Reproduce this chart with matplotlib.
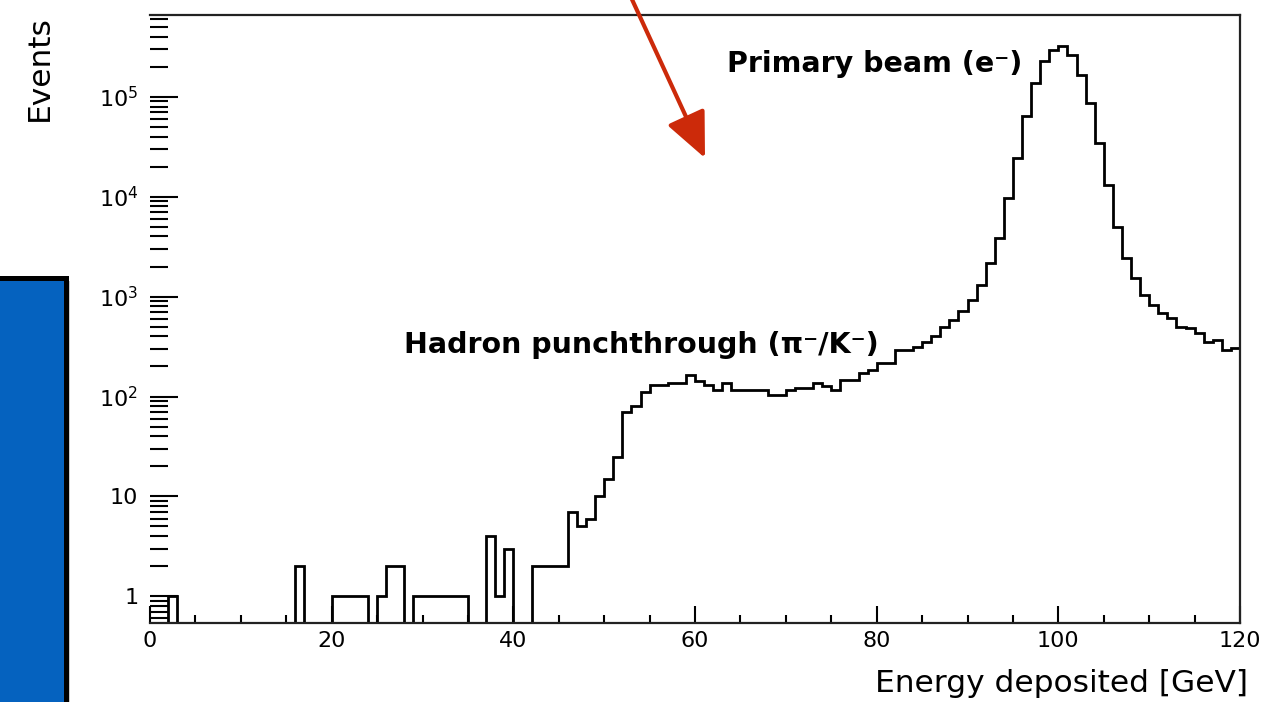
import matplotlib
matplotlib.use("Agg")
import matplotlib.pyplot as plt
import numpy as np
from matplotlib.patches import ArrowStyle, FancyArrowPatch, Rectangle
from matplotlib.ticker import MultipleLocator, LogLocator, NullFormatter

# energy binning [GeV]
bin_lo = 0
bin_hi = 120
bin_width = 1

# events per 1 GeV bin, 0-120 GeV
counts = [
    0, 0, 1, 0, 0, 0, 0, 0, 0, 0,                                          # 0-9
    0, 0, 0, 0, 0, 0, 2, 0, 0, 0,                                          # 10-19
    1, 1, 1, 1, 0, 1, 2, 2, 0, 1,                                          # 20-29
    1, 1, 1, 1, 1, 0, 0, 4, 1, 3,                                          # 30-39
    0, 0, 2, 2, 2, 2, 7, 5, 6, 10,                                         # 40-49
    15, 25, 70, 80, 112, 130, 130, 135, 135, 165,                          # 50-59
    142, 130, 116, 135, 116, 116, 116, 116, 104, 104,                      # 60-69
    116, 121, 121, 135, 126, 116, 147, 147, 171, 185,                      # 70-79
    215, 215, 293, 293, 316, 355, 400, 500, 585, 710,                      # 80-89
    930, 1310, 2160, 3850, 9700, 24300, 64000, 137000, 226000, 296000,     # 90-99
    320000, 264000, 166000, 86500, 34400, 13200, 5030, 2420, 1530, 1040,   # 100-109
    830, 680, 608, 500, 483, 430, 355, 370, 293, 305,                      # 110-119
]

decade_ticks = [1, 10, 1e2, 1e3, 1e4, 1e5]
decade_labels = ["1", "10", r"$10^{2}$", r"$10^{3}$", r"$10^{4}$", r"$10^{5}$"]

beam_label = "Primary beam (e\u207b)"
punch_label = "Hadron punchthrough (\u03c0\u207b/K\u207b)"

W, H = 1278, 702
fig = plt.figure(figsize=(W / 100, H / 100), dpi=100)
ax = fig.add_axes([150 / W, 79 / H, 1090 / W, 608 / H])

ymin, ymax = 0.54, 6.6e5
edges = np.arange(bin_lo, bin_hi + bin_width, bin_width)
counts_arr = np.asarray(counts, dtype=float)
# empty bins sit on the frame bottom like in ROOT
shown = np.where(counts_arr > 0, counts_arr, ymin * 0.5)
ax.stairs(shown, edges, baseline=None, color="black", lw=2.0)

ax.set_yscale("log")
ax.set_xlim(bin_lo, bin_hi)
ax.set_ylim(ymin, ymax)

ax.xaxis.set_major_locator(MultipleLocator(20))
ax.xaxis.set_minor_locator(MultipleLocator(5))
ax.tick_params(axis="x", which="major", direction="in", length=12, width=1.5,
               labelsize=16, pad=6, top=False)
ax.tick_params(axis="x", which="minor", direction="in", length=6, width=1.5, top=False)

ax.set_yticks(decade_ticks)
ax.set_yticklabels(decade_labels)
ax.yaxis.set_minor_locator(LogLocator(base=10, subs=np.arange(2, 10), numticks=20))
ax.yaxis.set_minor_formatter(NullFormatter())
ax.tick_params(axis="y", which="major", direction="in", length=20, width=1.5,
               labelsize=16, pad=8.5, right=False)
ax.tick_params(axis="y", which="minor", direction="in", length=13, width=1.5, right=False)

ax.spines["left"].set_visible(False)
for side in ("top", "right", "bottom"):
    ax.spines[side].set_linewidth(1.6)
    ax.spines[side].set_color("#222222")

ax.text(63.5, 1.78e5, beam_label, fontsize=20.5, fontweight="bold", ha="left", va="baseline")
ax.text(28.0, 272, punch_label, fontsize=20.5, fontweight="bold", ha="left", va="baseline")

fig.text(39 / W, 1 - 15 / H, "Events", rotation=90, fontsize=22.5, ha="center", va="top")
fig.text(1248 / W, 1 - 683 / H, "Energy deposited [GeV]", fontsize=22.5, ha="right", va="center")

# blue side panel with drop shadow
shadow = Rectangle((-20, -20), 20 + 70, 20 + H - 281, transform=None,
                   facecolor="#9a9a9a", edgecolor="none", alpha=0.5, zorder=1)
panel = Rectangle((-20, -20), 20 + 65.5, 20 + H - 277.5, transform=None,
                  facecolor="#0562BF", edgecolor="black", lw=3.6, zorder=2)
fig.add_artist(shadow)
fig.add_artist(panel)

# red pointer arrow from the top edge
arrow = FancyArrowPatch((629.5, H + 6), (705, H - 158), transform=None,
                        arrowstyle=ArrowStyle("-|>", head_length=1.0, head_width=0.45),
                        mutation_scale=28, color="#CC2A0A", lw=3.0, zorder=3,
                        shrinkA=0, shrinkB=0)
fig.add_artist(arrow)

fig.savefig("out.png", dpi=100)
